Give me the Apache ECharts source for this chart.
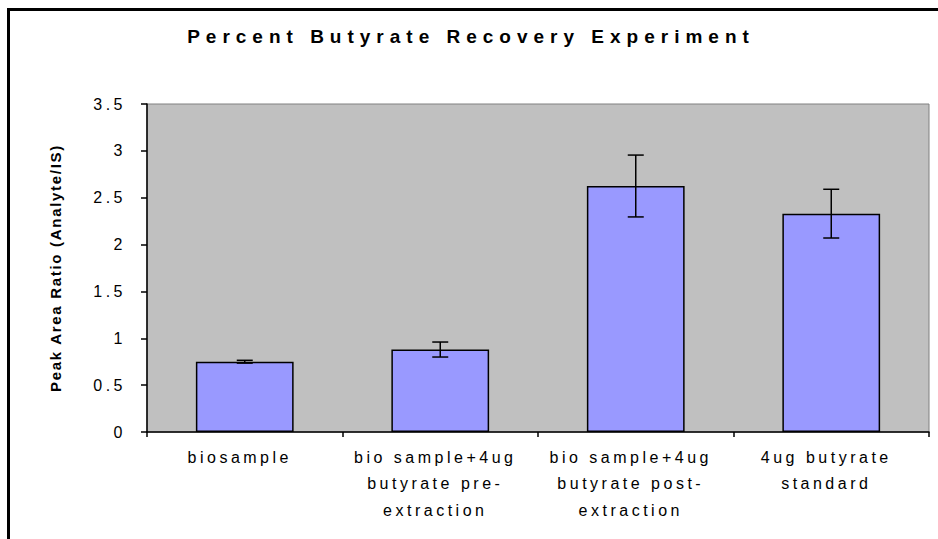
<!DOCTYPE html>
<html>
<head>
<meta charset="utf-8">
<script src="https://cdn.jsdelivr.net/npm/echarts@6/dist/echarts.min.js"></script>
<style>
  html, body { margin: 0; padding: 0; background: #fff; }
  #main { width: 938px; height: 539px; }
</style>
</head>
<body>
<div id="main"></div>
<script>
// data
var categories = [
  'biosample',
  'bio sample+4ug\nbutyrate pre-\nextraction',
  'bio sample+4ug\nbutyrate post-\nextraction',
  '4ug butyrate\nstandard'
];
var ratios = [0.75, 0.88, 2.625, 2.33];
var errors = [0.015, 0.08, 0.33, 0.26];
var yTicks = [0, 0.5, 1, 1.5, 2, 2.5, 3, 3.5];

var titleText = 'Percent Butyrate Recovery Experiment';
var yName = 'Peak Area Ratio (Analyte/IS)';

var chart = echarts.init(document.getElementById('main'), null, { renderer: 'svg' });

chart.setOption({
  backgroundColor: '#fff',
  animation: false,
  title: {
    text: titleText,
    left: 466,
    top: 22,
    textAlign: 'center',
    textStyle: { fontFamily: 'Liberation Sans', fontWeight: 'bold', fontSize: 19, color: '#000' }
  },
  graphic: [{
    type: 'rect',
    shape: { x: 8.5, y: 9.5, width: 1000, height: 1000 },
    style: { fill: 'none', stroke: '#000', lineWidth: 3 },
    silent: true
  }],
  grid: {
    left: 147, top: 104, right: 9, bottom: 107,
    show: true,
    backgroundColor: '#C0C0C0',
    borderColor: '#808080',
    borderWidth: 1
  },
  xAxis: {
    type: 'category',
    data: categories,
    boundaryGap: true,
    axisLine: { lineStyle: { color: '#000', width: 1.5 } },
    axisTick: { show: true, length: 5, lineStyle: { color: '#000', width: 1.5 } },
    axisLabel: {
      interval: 0,
      margin: 12,
      lineHeight: 26.5,
      padding: [0, 10, 0, 0],
      fontFamily: 'Liberation Sans',
      fontSize: 16,
      color: '#000'
    }
  },
  yAxis: {
    type: 'value',
    min: yTicks[0],
    max: yTicks[yTicks.length - 1],
    interval: 0.5,
    name: yName,
    nameLocation: 'middle',
    nameGap: 84,
    nameTextStyle: { fontFamily: 'Liberation Sans', fontWeight: 'bold', fontSize: 15, color: '#000' },
    axisLine: { show: true, lineStyle: { color: '#000', width: 1.5 } },
    axisTick: { show: true, length: 6, lineStyle: { color: '#000', width: 1.5 } },
    splitLine: { show: false },
    axisLabel: {
      margin: 21,
      fontFamily: 'Liberation Sans',
      fontSize: 16,
      color: '#000'
    }
  },
  series: [
    {
      type: 'bar',
      data: ratios,
      barWidth: '50%',
      itemStyle: { color: '#9999FF', borderColor: '#000', borderWidth: 1.5 }
    },
    {
      type: 'custom',
      data: ratios.map(function (v, i) { return [i, v - errors[i], v + errors[i]]; }),
      z: 10,
      renderItem: function (params, api) {
        var lo = api.coord([api.value(0), api.value(1)]);
        var hi = api.coord([api.value(0), api.value(2)]);
        var half = 8;
        var st = { stroke: '#000', lineWidth: 1.5 };
        return {
          type: 'group',
          children: [
            { type: 'line', shape: { x1: hi[0], y1: hi[1], x2: lo[0], y2: lo[1] }, style: st },
            { type: 'line', shape: { x1: hi[0] - half, y1: hi[1], x2: hi[0] + half, y2: hi[1] }, style: st },
            { type: 'line', shape: { x1: lo[0] - half, y1: lo[1], x2: lo[0] + half, y2: lo[1] }, style: st }
          ]
        };
      }
    }
  ]
});

// the original uses spaced-out lettering, so widen the svg text a little
function spaceText() {
  var texts = document.querySelectorAll('#main svg text');
  texts.forEach(function (t) {
    var s = t.textContent;
    if (s === titleText) {
      t.setAttribute('letter-spacing', '6');
    } else if (s === yName) {
      t.setAttribute('letter-spacing', '1.7');
    } else {
      t.setAttribute('letter-spacing', '3.5');
    }
  });
}
spaceText();
chart.on('finished', spaceText);
</script>
</body>
</html>
